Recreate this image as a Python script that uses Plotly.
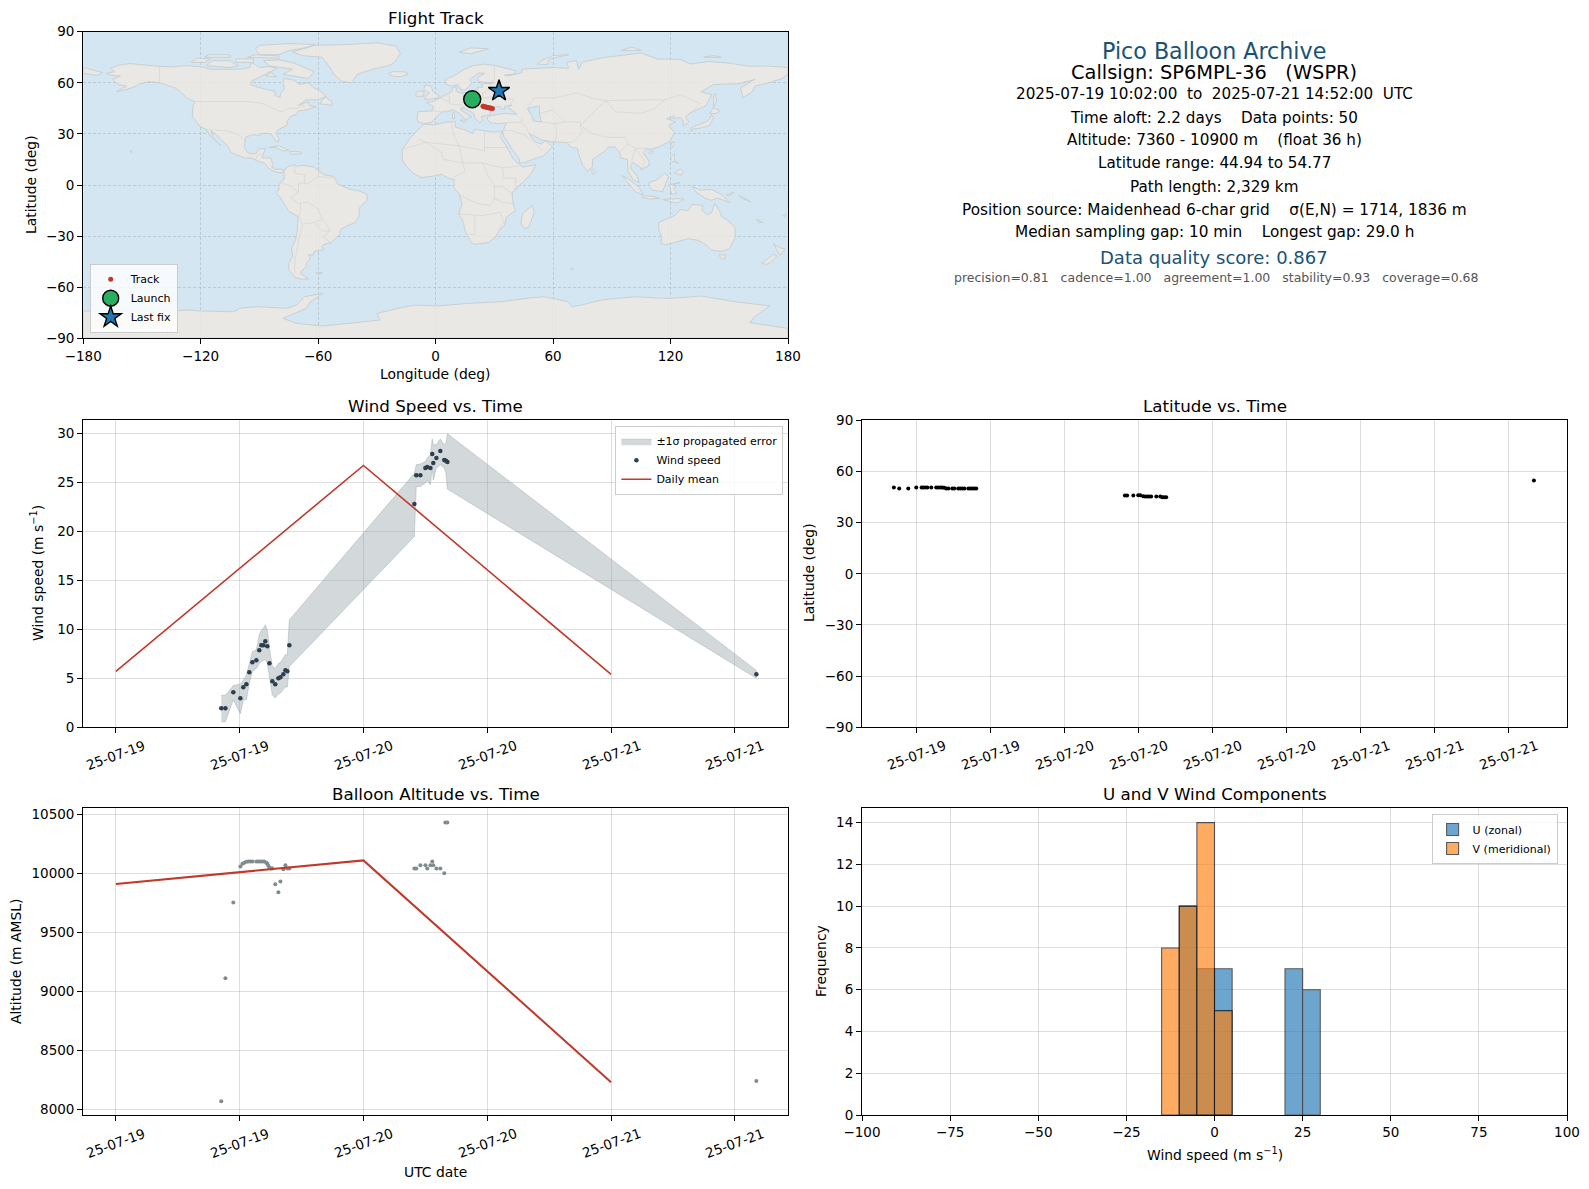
import plotly.graph_objects as go

# page has an 8px body margin, so all pixel positions are shifted by this
OFF = 8
FIG_W = 1573
FIG_H = 1173

FONT = "DejaVu Sans"
RED = "#c0392b"
NAVY = "#1a5276"
SEA = "#d4e6f1"
LAND = "rgba(237,232,225,0.8)"
COAST = "#c3cacd"
BORDER = "rgba(190,190,185,0.4)"
GRID = "rgba(128,128,128,0.26)"

# ---- wind speed panel
wind_times = ["07-19 10:13", "07-19 10:37", "07-19 11:23", "07-19 12:04", "07-19 12:21", "07-19 12:39",
              "07-19 12:56", "07-19 13:14", "07-19 13:37", "07-19 13:54", "07-19 14:06", "07-19 14:18",
              "07-19 14:29", "07-19 14:41", "07-19 14:53", "07-19 15:10", "07-19 15:27", "07-19 15:45",
              "07-19 15:57", "07-19 16:14", "07-19 16:26", "07-19 16:37", "07-19 16:49",
              "07-20 04:56", "07-20 05:07", "07-20 05:31", "07-20 06:00", "07-20 06:11", "07-20 06:29",
              "07-20 06:40", "07-20 06:46", "07-20 07:04", "07-20 07:27", "07-20 07:50", "07-20 08:00",
              "07-20 08:08", "07-21 14:05"]
wind_speed = [1.94, 1.94, 3.57, 2.96, 4.08, 4.39, 5.61, 6.63, 6.84, 7.86, 8.37, 8.37, 8.78, 8.27, 6.53,
              4.69, 4.39, 5.0, 5.1, 5.41, 5.82, 5.71, 8.37,
              22.76, 25.71, 25.71, 26.43, 26.53, 26.43, 27.86, 26.94, 27.45, 28.16, 27.24, 27.18, 27.04, 5.4]
wind_upper = [3.26, 3.26, 4.25, 4.4, 4.8, 5.3, 6.5, 7.7, 7.9, 9.4, 9.9, 10.1, 10.45, 9.9, 8.05,
              6.2, 6.0, 6.5, 6.6, 7.0, 7.4, 7.4, 10.95,
              25.9, 26.77, 26.84, 27.1, 27.45, 27.8, 29.4, 28.8, 28.8, 29.4, 28.8, 29.0, 29.93, 5.8]
wind_lower = [0.57, 0.57, 2.8, 1.36, 2.8, 2.8, 4.5, 5.7, 6.0, 6.5, 6.7, 6.8, 6.9, 6.5, 5.0,
              3.3, 3.0, 3.4, 3.5, 3.8, 4.1, 4.1, 6.2,
              19.45, 24.56, 24.56, 24.9, 25.17, 24.73, 26.6, 25.2, 26.43, 26.77, 26.43, 25.9, 24.29, 5.0]
daily_days = ["2025-07-19", "2025-07-20", "2025-07-21"]
daily_wind = [5.7, 26.7, 5.4]
daily_alt = [9910, 10110, 8230]

# ---- latitude panel
lat_times = ["07-19 10:11", "07-19 10:37", "07-19 11:21", "07-19 12:00", "07-19 12:26", "07-19 12:34",
             "07-19 12:44", "07-19 12:54", "07-19 13:13", "07-19 13:37", "07-19 13:47", "07-19 13:57",
             "07-19 14:06", "07-19 14:16", "07-19 14:26", "07-19 14:36", "07-19 14:55", "07-19 15:05",
             "07-19 15:24", "07-19 15:34", "07-19 15:44", "07-19 15:54", "07-19 16:13", "07-19 16:23",
             "07-19 16:32", "07-19 16:42", "07-19 16:52",
             "07-20 04:55", "07-20 05:06", "07-20 05:36", "07-20 06:00", "07-20 06:10", "07-20 06:24",
             "07-20 06:34", "07-20 06:44", "07-20 06:53", "07-20 07:03", "07-20 07:28", "07-20 07:47",
             "07-20 07:57", "07-20 08:06", "07-20 08:16", "07-21 14:05"]
lat_values = [50.6, 50.0, 50.0, 50.6, 50.6, 50.6, 50.6, 50.6, 50.6, 50.6, 50.6, 50.6, 50.6, 50.4, 50.0,
              50.0, 50.0, 50.0, 50.0, 50.0, 50.0, 50.0, 50.0, 50.0, 50.0, 50.0, 50.0,
              45.9, 45.9, 45.9, 46.1, 46.1, 45.5, 45.3, 45.3, 45.3, 45.3, 45.3, 45.3, 44.94, 44.94, 44.94, 54.77]

# ---- altitude panel
alt_times = ["07-19 10:13", "07-19 10:37", "07-19 11:23", "07-19 12:04", "07-19 12:16", "07-19 12:27",
             "07-19 12:39", "07-19 12:50", "07-19 13:02", "07-19 13:14", "07-19 13:37", "07-19 13:49",
             "07-19 14:00", "07-19 14:12", "07-19 14:23", "07-19 14:35", "07-19 14:41", "07-19 14:47",
             "07-19 14:53", "07-19 15:04", "07-19 15:10", "07-19 15:27", "07-19 15:45", "07-19 15:57",
             "07-19 16:14", "07-19 16:26", "07-19 16:37", "07-19 16:49",
             "07-20 04:56", "07-20 05:07", "07-20 05:31", "07-20 06:00", "07-20 06:11", "07-20 06:29",
             "07-20 06:40", "07-20 06:46", "07-20 07:04", "07-20 07:27", "07-20 07:50", "07-20 07:56",
             "07-20 08:08", "07-21 14:05"]
alt_values = [8068, 9110, 9754, 10059, 10082, 10090, 10099, 10100, 10100, 10100, 10100, 10100,
              10100, 10100, 10100, 10090, 10082, 10065, 10050, 10042, 10042, 9907, 9839, 9932,
              10034, 10068, 10042, 10042,
              10042, 10042, 10068, 10068, 10042, 10068, 10100, 10068, 10042, 10042, 10000, 10432,
              10432, 8240]

# ---- histogram
u_bins = [-7.5, -2.5, 2.5, 22.5, 27.5]
u_counts = [10, 7, 7, 7, 6]
v_bins = [-12.5, -7.5, -2.5, 2.5]
v_counts = [8, 10, 14, 5]

# ---- flight track
track_lon = [24.2, 24.8, 25.4, 26.0, 26.6, 27.2, 27.8, 28.4, 29.0]
track_lat = [46.2, 46.0, 45.9, 45.7, 45.5, 45.3, 45.2, 45.0, 44.94]
launch_lon, launch_lat = [18.7], [50.3]
last_lon, last_lat = [32.4], [55.2]

# ---- map outlines (lon, lat), read by eye
land_rings = [
    # north america
    [(-168, 65.5), (-164, 66.5), (-166, 68.5), (-162, 70.3), (-156.5, 71.3), (-150, 70.5), (-141, 69.7), (-135, 69.3),
     (-128, 70), (-120, 69.5), (-115, 68), (-108, 68), (-100, 68), (-95, 69), (-94, 72), (-90, 69), (-85, 69.5),
     (-81, 68.5), (-87, 65), (-94, 61), (-94.5, 58.8), (-88, 56.5), (-82, 55), (-82, 52.5), (-79.5, 51.3), (-79, 54.5),
     (-77, 56.5), (-78, 60), (-77.5, 62.5), (-72, 61.5), (-70, 59), (-65, 60), (-62, 57), (-58, 54.5), (-56, 52),
     (-60, 50), (-66, 50), (-70, 47), (-65, 48.8), (-64.5, 46.5), (-61, 46), (-66, 44), (-70, 43.5), (-71, 41.5),
     (-74, 40.5), (-76, 37), (-75.7, 35.3), (-78, 33.8), (-81, 32), (-81.3, 30), (-80, 27), (-80.3, 25.3), (-81.8, 26),
     (-82.8, 28), (-84, 30), (-86, 30.4), (-89.5, 30.2), (-89.5, 29.2), (-91, 29.3), (-94, 29.5), (-97, 28), (-97.5, 25),
     (-97.8, 22.5), (-96, 19), (-94, 18.2), (-91.5, 18.5), (-90.5, 21), (-87, 21.5), (-88, 18), (-88.7, 16), (-84, 15.8),
     (-83.3, 12), (-83.7, 10.5), (-81.5, 9), (-79.5, 9.5), (-77.5, 8.6), (-78, 7.3), (-80.5, 7.3), (-83, 8.3), (-85.5, 10),
     (-87.5, 13), (-91, 14), (-94, 16), (-97, 15.8), (-101, 17.3), (-105, 19.5), (-105.5, 22), (-109, 26), (-112.5, 30),
     (-114.7, 31.7), (-114, 28.5), (-111, 24.5), (-109.5, 23), (-112, 25), (-115, 28.5), (-117, 32.5), (-120.5, 34.5),
     (-122.5, 37.5), (-124.3, 40.5), (-124, 46), (-123, 49), (-127, 51), (-130, 54.5), (-133, 57), (-137, 58.7),
     (-141, 60), (-146, 60.7), (-151, 59.5), (-153, 58), (-158, 56), (-163, 54.8), (-158, 58), (-162, 59), (-165, 62),
     (-161, 64), (-166, 64.5)],
    # greenland and arctic islands
    [(-73, 78), (-68, 80), (-62, 82), (-45, 82.5), (-30, 83.5), (-20, 81.5), (-18, 77), (-21, 72), (-24, 70), (-32, 68),
     (-40, 65), (-43, 60), (-48, 61), (-52, 65), (-54, 69), (-58, 75), (-68, 76)],
    [(-80, 73.5), (-72, 71.5), (-67, 69), (-62, 66.5), (-65, 62.5), (-72, 64), (-78, 65), (-73, 68), (-85, 70), (-88, 73)],
    [(-90, 76.5), (-80, 76.5), (-76, 78.5), (-65, 81), (-62, 82.5), (-75, 83), (-90, 82), (-92, 80)],
    [(-117, 70), (-105, 69), (-101, 70), (-105, 73), (-114, 73)],
    [(-125, 72), (-118, 72), (-115, 74), (-122, 74.5)],
    [(-96, 75), (-80, 74.5), (-80, 75.8), (-92, 76.5)],
    [(-118, 75), (-105, 75), (-105, 76.5), (-116, 76.5)],
    [(-102, 72), (-93, 72), (-93, 74), (-102, 74)],
    [(-87, 64), (-81, 63.5), (-84, 66)],
    [(-59, 47.7), (-53, 46.7), (-53, 49), (-56, 51.5), (-58, 50)],
    # caribbean, hawaii
    [(-85, 22), (-80, 23), (-75, 20.5), (-77.5, 19.9), (-82, 22)],
    [(-74.4, 19.7), (-69, 19.5), (-68.5, 18.3), (-74, 18)],
    [(-156, 20.2), (-155, 19.7), (-155.7, 19), (-156, 19.7)],
    # south america
    [(-77.5, 8.6), (-75, 11), (-72, 12), (-71, 11), (-68, 11.5), (-62, 10.5), (-60, 8.5), (-57, 6), (-52, 5), (-50, 0.5),
     (-44, -2.5), (-39, -3.5), (-35, -5.5), (-35, -9), (-39, -13.5), (-39, -18), (-41, -22), (-45, -23.8), (-48.5, -26),
     (-49, -29), (-53.5, -34), (-57, -34.7), (-58, -36), (-57, -38), (-62, -39), (-62.5, -41), (-65, -41), (-64, -43),
     (-66, -46), (-66, -48), (-69, -51), (-68.5, -52.5), (-65, -55), (-68, -55.5), (-72, -54), (-75, -50), (-75, -46),
     (-73, -42), (-73.5, -37), (-71.5, -32), (-70.5, -25), (-70.3, -18.5), (-75, -15.5), (-77, -12), (-79.5, -7),
     (-81.3, -5), (-80, -2.5), (-80, 0.5), (-78.5, 2), (-77.3, 4), (-77.5, 7)],
    [(-61, -51.5), (-58, -51.3), (-58.5, -52.2), (-60.5, -52.2)],
    # africa
    [(-17, 14.7), (-17, 21), (-13, 27.5), (-9.8, 31.5), (-6, 35.8), (-1, 35.2), (5, 36.8), (10, 37.3), (10.2, 34),
     (15, 32.3), (19, 30.3), (20, 32.8), (25, 31.6), (29, 31), (32, 31.3), (34.2, 31.3), (33, 28), (35.5, 24),
     (37.2, 20.5), (39.5, 15.5), (43, 11.8), (44.5, 10.5), (51.2, 11.9), (49, 7), (45, 2), (41, -2), (39, -5), (39.5, -10),
     (40.7, -15), (36, -19), (35.3, -24), (32.8, -26), (31, -30), (27, -33.8), (20, -34.8), (18.3, -34), (15, -27),
     (14.3, -22), (11.8, -17), (13.5, -11), (12.2, -5.5), (9.3, -1.5), (9.5, 3), (6, 4.3), (3, 6.3), (-2, 5), (-7.5, 4.4),
     (-11.5, 7), (-15, 11)],
    [(49.3, -12), (50.4, -16), (47.5, -25), (45, -25.5), (43.5, -22), (44.5, -16.5)],
    # eurasia
    [(-9, 37), (-9.5, 39), (-9, 43), (-2, 43.5), (-1, 46), (-4.5, 48.3), (-1.5, 49), (2, 51), (4, 52), (7, 53.7), (8.5, 55),
     (8.5, 57), (10.5, 57.7), (10.5, 55), (12, 54.2), (14, 54), (18.5, 54.7), (21, 55.5), (21.5, 57.5), (24, 57.3),
     (23.5, 59.3), (30, 60), (25, 60.2), (21.5, 61), (21.5, 63), (25, 65.5), (22, 65.8), (17.5, 62), (18.5, 60), (16.5, 57),
     (14.3, 55.5), (12.8, 56), (11.3, 59), (8, 58), (5.5, 59), (5, 62), (10, 64.5), (14, 67.5), (19, 70), (25, 71), (31, 70),
     (41, 67), (40, 65), (35, 64.5), (37, 64), (40, 64.7), (44, 66), (44, 68), (54, 68.5), (60, 69), (68, 68.5), (67, 72),
     (72, 73), (73, 68), (75, 72), (80, 73.5), (87, 75), (100, 76.5), (105, 77.5), (113, 74), (125, 73.7), (130, 71),
     (140, 72.5), (150, 71.5), (160, 69.7), (170, 69.8), (180, 69), (180, 65), (177, 62.5), (170, 60), (163, 58), (162, 55),
     (157, 51.2), (155.7, 57), (163, 62), (155, 59.5), (142, 59), (135.5, 54.7), (141, 53), (138, 46.5), (132, 43),
     (130, 42.3), (127.5, 39.8), (129.4, 37), (126.3, 34.5), (126.5, 37.5), (125, 39.7), (121.5, 39), (122, 40.7), (118, 39),
     (122.5, 37), (119, 35), (122, 31), (120, 26), (114, 22.3), (110, 21), (108, 21.5), (106, 19), (109, 14), (109, 11.5),
     (105, 8.8), (105, 10), (100.5, 13.5), (99.5, 10), (103, 5), (104, 1.3), (101, 3), (98.3, 8), (98, 15), (94.5, 16),
     (94, 19), (91.5, 22.5), (88, 22), (86.5, 20), (80.3, 15), (80, 10.5), (77.5, 8), (75, 12), (72.8, 19), (72.5, 21.5),
     (69, 22.3), (67, 25), (61, 25.2), (57, 26), (54, 26.5), (51, 28.5), (48, 30), (49.5, 27), (51.5, 25), (54, 24),
     (56.3, 26), (58.5, 23.5), (59.8, 22.5), (55, 17), (52, 16), (45, 13), (43, 13), (42.5, 16), (39, 21), (36.5, 26),
     (35, 28), (34.2, 31.3), (35, 33), (36, 36.5), (32, 36), (28, 36.5), (26.5, 38.5), (26.5, 40), (29, 41), (35, 42),
     (41.5, 41.5), (39, 44), (37, 45.3), (39, 47), (35, 46), (36, 45), (33.5, 44.5), (33, 46), (30.5, 46), (28, 43),
     (28, 41.5), (26, 40.7), (23.5, 40.5), (24, 38), (22.5, 36.5), (20, 39.5), (19.5, 42), (14.5, 45.3), (12.5, 45),
     (13.5, 43.5), (16, 41.5), (18.5, 40), (16.5, 39.5), (15.7, 38), (12, 42), (9, 44.3), (6, 43), (3.3, 43), (0, 39.5),
     (-2, 36.8), (-5.5, 36)],
    [(-180, 69), (-175, 67.5), (-170, 66), (-173, 64.3), (-179, 65.5), (-180, 65)],
    # european and russian islands
    [(-5.5, 50), (1.5, 51.2), (1.5, 52.8), (-1.5, 55), (-2, 57.5), (-3.5, 58.6), (-5.5, 58.5), (-6, 56), (-3, 54), (-5, 52)],
    [(-10, 52), (-6, 52.2), (-6, 55), (-8.5, 55.2), (-10, 54)],
    [(-24, 65.5), (-22, 64), (-18, 63.5), (-14, 65), (-16, 66.5), (-22, 66.5)],
    [(12, 78), (18, 77), (27, 80), (18, 80.5)],
    [(52, 71), (57, 70.7), (58, 74), (68, 76.5), (60, 76), (54, 73)],
    [(137, 75), (146, 75), (142, 76)],
    [(95, 79), (105, 79), (100, 81)],
    [(8.5, 39), (9.7, 39), (9.5, 43), (8.7, 42)],
    [(12.5, 38), (15.5, 38.2), (15, 36.7)],
    # east asia and indonesia
    [(142, 46), (143.5, 49), (143, 54), (142, 52.5)],
    [(130.5, 31.5), (132, 33), (135.5, 33.5), (140, 35), (142, 39.5), (141, 41.3), (139.5, 38), (136, 36), (131, 34)],
    [(140, 42), (143.3, 42), (145.3, 43.5), (142, 45.4)],
    [(120, 23), (121, 22), (122, 25), (121, 25.3)],
    [(108.7, 19), (110.5, 18.3), (111, 20), (109.5, 20)],
    [(120, 16), (122, 18.5), (122, 14), (124, 12.8), (120.7, 14)],
    [(122, 7), (125.5, 5.8), (126.5, 8), (125, 9.5)],
    [(80, 9.5), (81.8, 7.5), (80.5, 6), (79.8, 8)],
    [(95.3, 5.5), (98, 4), (104, -1.5), (106, -5.8), (102, -4), (98.5, 1)],
    [(105.3, -6.5), (110, -6.5), (114.5, -7.8), (110, -8.3), (106, -7.5)],
    [(109, 1.5), (113, 3), (117, 7), (119, 5), (117.5, 1), (116, -4), (111, -3), (109, -0.5)],
    [(119.5, 0), (125, 1.5), (121, 0), (123, -1), (121.5, -2), (123, -5), (120.5, -5.5), (120, -2.5)],
    [(131, -0.8), (135, -3), (141, -2.6), (146, -5.5), (150.5, -10.5), (144, -7.7), (141, -9), (138, -8), (133, -4)],
    [(116, -8.5), (125, -8), (127, -8.5), (123.5, -10.5), (117, -9)],
    [(148.5, -5.7), (152.5, -4.2), (150, -6.2)],
    [(155, -6), (161, -10), (156, -7.5)],
    [(164, -20), (167, -22), (165, -22)],
    [(177.5, -18), (179, -17), (178.5, -18.4)],
    # australia and nz
    [(114, -22), (114, -26), (115.5, -31), (115, -34.3), (118, -35), (124, -33), (129, -31.5), (134, -32.5), (138, -35),
     (140.5, -38), (146, -39), (150, -37.5), (153, -31), (153, -25), (149, -20.5), (146, -18.5), (145, -15), (142.5, -10.8),
     (141, -16), (139, -17.5), (136, -15), (136.5, -12), (131, -11.3), (129, -15), (125, -14.5), (122, -18), (117, -20.5)],
    [(144.7, -41), (148.3, -41), (147.5, -43.5), (146, -43.5)],
    [(172.7, -34.5), (175.5, -36.7), (178.5, -37.7), (176, -41.3), (174.7, -39)],
    [(172.7, -40.6), (174.3, -41.7), (171, -45.5), (169, -46.6), (166.5, -46), (170, -43)],
    [(69, -49), (70.5, -49.3), (69.5, -49.7)],
    # antarctica
    [(-180, -74), (-139, -74), (-127, -73.4), (-119, -74), (-103, -74.4), (-100, -72.4), (-91.5, -71.4), (-76, -72.4),
     (-71, -70.5), (-67, -65.6), (-57.5, -63.6), (-64, -68.5), (-66, -72.4), (-78, -78.3), (-71, -81.2), (-58, -82.8),
     (-44, -81.2), (-28.5, -79.3), (-30, -75.4), (-17, -71.8), (-10, -70.5), (1, -71), (16.5, -69.5), (33.5, -68.5),
     (50.6, -66), (55.7, -65.6), (67.6, -68.5), (69.3, -71.4), (74.4, -70.5), (84.7, -67.5), (101.7, -65.6), (118.7, -66.6),
     (135.8, -65.2), (152.8, -68.5), (170.7, -71), (163, -77.3), (160.5, -80.8), (180, -84.2), (180, -90), (-180, -90)],
]
caspian_ring = [(47, 45), (53, 46.5), (53, 42), (54, 37), (50, 37.5), (49, 41)]
border_lines = [
    [(-141, 69.7), (-141, 60)],
    [(-123, 49), (-95, 49), (-89, 48), (-82.5, 45), (-79, 43), (-75, 45), (-71, 45), (-67.5, 47), (-67, 45)],
    [(-117, 32.5), (-108, 31.5), (-106, 31.7), (-101, 29.7), (-97.5, 26)],
    [(-92, 14.5), (-91, 17.5), (-89, 18)],
    [(-52, 4), (-60, 5), (-65, 1), (-70, 1), (-70, -4), (-74, -7.5), (-70, -11), (-65, -10), (-60, -14), (-58, -20), (-55, -24),
     (-54, -27), (-57.5, -30.5), (-53.5, -34)],
    [(-70, -18), (-68, -23), (-70, -33), (-72, -45), (-72, -52)],
    [(-69, -11), (-69, -16), (-70, -18)],
    [(-68, -23), (-62, -22), (-58, -20)],
    [(-62, -22), (-58, -27), (-54, -27)],
    [(-78.5, 1), (-75, 0), (-70, -4)],
    [(-72, 12), (-72, 7), (-67, 6), (-67, 1)],
    [(-60, 8), (-60, 5)],
    [(-17, 21), (-5, 25), (12, 23), (25, 20), (25, 31.6)],
    [(-9, 27), (-5, 25), (3, 19), (4, 15), (14, 13), (24, 13), (34, 10), (42, 11)],
    [(12, 23), (14, 13), (15, 8), (9, 4.5)],
    [(25, 22), (37, 22)],
    [(34, 10), (35, 4), (41, 4), (41, -2)],
    [(24, 13), (27, 5), (30, 0), (30, -8), (28, -12), (22, -11), (12, -6)],
    [(30, -1), (34, -1), (39.5, -5)],
    [(30, -8), (34, -10), (40, -11)],
    [(12, -17), (24, -18), (33, -16), (35, -22), (32, -26)],
    [(20, -18), (20, -29), (17, -29)],
    [(8, 37), (9, 30), (12, 23)],
    [(3, 43), (-2, 43.5)],
    [(2, 51), (7, 49), (7.5, 47.5), (13, 47), (14.5, 45.5)],
    [(7, 53.5), (7, 49)],
    [(14, 54), (15, 51), (22, 49), (24, 51), (24, 54), (28, 56), (28, 60)],
    [(22, 49), (28, 46), (28, 43)],
    [(24, 51), (34, 52), (40, 50), (38, 47)],
    [(30, 70), (30, 62), (28, 60)],
    [(48, 42), (47, 45), (50, 51), (60, 51), (72, 54), (80, 51), (87, 49.5), (98, 50), (107, 50), (117, 50), (125, 53), (135, 48), (131, 43)],
    [(87, 49.5), (92, 43), (105, 42), (112, 45), (117, 50)],
    [(74, 35), (80, 42), (87, 49.5)],
    [(74, 35), (80, 30), (88, 28), (97, 28), (98, 24), (102, 21.5), (108, 21.5)],
    [(61, 25), (62, 30), (61, 36), (54, 37)],
    [(61, 36), (66, 37), (74, 37), (74, 35), (75, 31), (70, 25), (67, 25)],
    [(66, 37), (60, 44), (53, 42)],
    [(44, 37), (46, 34), (48, 30)],
    [(36, 36.5), (44, 37), (44.5, 39.5)],
    [(35, 32), (39, 32), (46, 29), (52, 23), (55, 20)],
    [(98, 24), (94, 19)],
    [(102, 21.5), (100, 14)],
    [(105, 9), (107, 14), (102, 21)],
]


def rings_to_xy(rings, closed=True):
    xs, ys = [], []
    for ring in rings:
        pts = list(ring) + [ring[0]] if closed else ring
        xs += [p[0] for p in pts] + [None]
        ys += [p[1] for p in pts] + [None]
    return xs, ys


def stamp(times):
    return ["2025-" + t for t in times]


def px(x):
    return (x - OFF) / FIG_W


def py(y):
    return 1 - (y - OFF) / FIG_H


# plot areas in window pixels: left, right, top, bottom
BOX_MAP = (83.2, 788, 31.7, 338.3)
BOX_WIND = (83.2, 788, 420.3, 727.3)
BOX_LAT = (862, 1567, 420.3, 727.3)
BOX_ALT = (83.2, 788, 808, 1115)
BOX_HIST = (862, 1567, 808, 1115)

fig = go.Figure()

# map
land_x, land_y = rings_to_xy(land_rings)
fig.add_trace(go.Scatter(x=land_x, y=land_y, mode="lines", fill="toself", fillcolor=LAND,
                         line=dict(color=COAST, width=0.8), hoverinfo="skip", showlegend=False,
                         xaxis="x", yaxis="y"))
casp_x, casp_y = rings_to_xy([caspian_ring])
fig.add_trace(go.Scatter(x=casp_x, y=casp_y, mode="lines", fill="toself", fillcolor=SEA,
                         line=dict(color=COAST, width=0.8), hoverinfo="skip", showlegend=False,
                         xaxis="x", yaxis="y"))
bord_x, bord_y = rings_to_xy(border_lines, closed=False)
fig.add_trace(go.Scatter(x=bord_x, y=bord_y, mode="lines", line=dict(color=BORDER, width=0.8),
                         hoverinfo="skip", showlegend=False, xaxis="x", yaxis="y"))
fig.add_trace(go.Scatter(x=track_lon, y=track_lat, mode="markers", name="Track", legend="legend",
                         marker=dict(color=RED, size=5), xaxis="x", yaxis="y"))
fig.add_trace(go.Scatter(x=launch_lon, y=launch_lat, mode="markers", name="Launch", legend="legend",
                         marker=dict(color="#27ae60", size=17, line=dict(color="black", width=1.4)),
                         xaxis="x", yaxis="y"))
fig.add_trace(go.Scatter(x=last_lon, y=last_lat, mode="markers", name="Last fix", legend="legend",
                         marker=dict(color="#1f77b4", size=16, symbol="star", line=dict(color="black", width=1.4)),
                         xaxis="x", yaxis="y"))

# wind speed
band_x = stamp(wind_times) + stamp(wind_times)[::-1]
band_y = wind_upper + wind_lower[::-1]
fig.add_trace(go.Scatter(x=band_x, y=band_y, mode="lines", fill="toself", name="±1σ propagated error",
                         fillcolor="rgba(149,165,166,0.42)", line=dict(color="rgba(149,165,166,0.42)", width=1),
                         legend="legend2", xaxis="x2", yaxis="y2"))
fig.add_trace(go.Scatter(x=stamp(wind_times), y=wind_speed, mode="markers", name="Wind speed",
                         marker=dict(color="#2c3e50", size=4.5), legend="legend2", xaxis="x2", yaxis="y2"))
fig.add_trace(go.Scatter(x=daily_days, y=daily_wind, mode="lines", name="Daily mean",
                         line=dict(color=RED, width=1.6), legend="legend2", xaxis="x2", yaxis="y2"))

# latitude
fig.add_trace(go.Scatter(x=stamp(lat_times), y=lat_values, mode="markers", showlegend=False,
                         marker=dict(color="black", size=4), xaxis="x3", yaxis="y3"))

# altitude
fig.add_trace(go.Scatter(x=stamp(alt_times), y=alt_values, mode="markers", showlegend=False,
                         marker=dict(color="#7f8c8d", size=4), xaxis="x4", yaxis="y4"))
fig.add_trace(go.Scatter(x=daily_days, y=daily_alt, mode="lines", showlegend=False,
                         line=dict(color=RED, width=2), xaxis="x4", yaxis="y4"))

# histogram
fig.add_trace(go.Bar(x=u_bins, y=u_counts, width=5, name="U (zonal)", opacity=0.65,
                     marker=dict(color="#1f77b4", line=dict(color="black", width=1.1)),
                     legend="legend3", xaxis="x5", yaxis="y5"))
fig.add_trace(go.Bar(x=v_bins, y=v_counts, width=5, name="V (meridional)", opacity=0.65,
                     marker=dict(color="#ff7f0e", line=dict(color="black", width=1.1)),
                     legend="legend3", xaxis="x5", yaxis="y5"))

annotations = []


def add_text(text, x, y, size, color="black", angle=0, xanchor="center"):
    annotations.append(dict(text=text, x=px(x), y=py(y), xref="paper", yref="paper", showarrow=False,
                            font=dict(family=FONT, size=size, color=color), textangle=angle,
                            xanchor=xanchor, yanchor="middle"))


def base_axis(box, horizontal, partner):
    dom = (px(box[0]), px(box[1])) if horizontal else (py(box[3]), py(box[2]))
    return dict(domain=dom, anchor=partner, showline=True, mirror=True, linecolor="black", linewidth=1.1,
                ticks="outside", ticklen=5, tickwidth=1.1, tickcolor="black",
                gridcolor=GRID, gridwidth=1, zeroline=False,
                tickfont=dict(family=FONT, size=13.5, color="black"))


def date_axis(box, tick_times, tick_labels, rng, ref, partner):
    ax = base_axis(box, True, partner)
    ax.update(type="date", range=rng, tickmode="array", tickvals=tick_times, showticklabels=False)
    for t, lab in zip(tick_times, tick_labels):
        annotations.append(dict(text=lab, x=t, y=py(box[3]), xref=ref, yref="paper", yshift=-28, showarrow=False,
                                font=dict(family=FONT, size=13.5, color="black"), textangle=-20,
                                xanchor="center", yanchor="middle"))
    return ax


ticks_12h = ["2025-07-19 00:00", "2025-07-19 12:00", "2025-07-20 00:00", "2025-07-20 12:00",
             "2025-07-21 00:00", "2025-07-21 12:00"]
labels_12h = ["25-07-19", "25-07-19", "25-07-20", "25-07-20", "25-07-21", "25-07-21"]
ticks_6h = ["2025-07-19 12:00", "2025-07-19 18:00", "2025-07-20 00:00", "2025-07-20 06:00", "2025-07-20 12:00",
            "2025-07-20 18:00", "2025-07-21 00:00", "2025-07-21 06:00", "2025-07-21 12:00"]
labels_6h = ["25-07-19", "25-07-19", "25-07-20", "25-07-20", "25-07-20", "25-07-20",
             "25-07-21", "25-07-21", "25-07-21"]
range_12h = ["2025-07-18 20:50", "2025-07-21 17:09"]
range_6h = ["2025-07-19 07:36", "2025-07-21 16:46"]

map_grid = dict(griddash="3px,2px", gridcolor="rgba(128,128,128,0.28)", gridwidth=0.7)

xaxis = base_axis(BOX_MAP, True, "y")
xaxis.update(range=[-180, 180], tickvals=[-180, -120, -60, 0, 60, 120, 180], **map_grid)
yaxis = base_axis(BOX_MAP, False, "x")
yaxis.update(range=[-90, 90], tickvals=[-90, -60, -30, 0, 30, 60, 90], **map_grid)

xaxis2 = date_axis(BOX_WIND, ticks_12h, labels_12h, range_12h, "x2", "y2")
yaxis2 = base_axis(BOX_WIND, False, "x2")
yaxis2.update(range=[0, 31.3], tickvals=[0, 5, 10, 15, 20, 25, 30])

xaxis3 = date_axis(BOX_LAT, ticks_6h, labels_6h, range_6h, "x3", "y3")
yaxis3 = base_axis(BOX_LAT, False, "x3")
yaxis3.update(range=[-90, 90], tickvals=[-90, -60, -30, 0, 30, 60, 90])

xaxis4 = date_axis(BOX_ALT, ticks_12h, labels_12h, range_12h, "x4", "y4")
yaxis4 = base_axis(BOX_ALT, False, "x4")
yaxis4.update(range=[7952, 10554], tickvals=[8000, 8500, 9000, 9500, 10000, 10500], tickformat="d")

xaxis5 = base_axis(BOX_HIST, True, "y5")
xaxis5.update(range=[-100, 100], tickvals=[-100, -75, -50, -25, 0, 25, 50, 75, 100])
yaxis5 = base_axis(BOX_HIST, False, "x5")
yaxis5.update(range=[0, 14.7], tickvals=[0, 2, 4, 6, 8, 10, 12, 14])

# titles
add_text("Flight Track", 435.6, 18, 16.7)
add_text("Wind Speed vs. Time", 435.6, 406, 16.7)
add_text("Latitude vs. Time", 1214.5, 406, 16.7)
add_text("Balloon Altitude vs. Time", 435.6, 794, 16.7)
add_text("U and V Wind Components", 1214.5, 794, 16.7)

# axis labels
add_text("Longitude (deg)", 435.6, 374, 13.9)
add_text("Latitude (deg)", 31, 185, 13.9, angle=-90)
add_text("Wind speed (m s<sup>−1</sup>)", 37, 573, 13.9, angle=-90)
add_text("Latitude (deg)", 809, 573, 13.9, angle=-90)
add_text("Altitude (m AMSL)", 16, 961, 13.9, angle=-90)
add_text("Frequency", 821, 961, 13.9, angle=-90)
add_text("UTC date", 435.6, 1172, 13.9)
add_text("Wind speed (m s<sup>−1</sup>)", 1214.5, 1154, 13.9)

# summary block
add_text("Pico Balloon Archive", 1214, 50.7, 22.2, color=NAVY)
add_text("Callsign: SP6MPL-36   (WSPR)", 1214, 73, 19.4)
add_text("2025-07-19 10:02:00  to  2025-07-21 14:52:00  UTC", 1214, 94.2, 15.2)
add_text("Time aloft: 2.2 days    Data points: 50", 1214, 117.6, 15.2)
add_text("Altitude: 7360 - 10900 m    (float 36 h)", 1214, 139.8, 15.2)
add_text("Latitude range: 44.94 to 54.77", 1214, 163.2, 15.2)
add_text("Path length: 2,329 km", 1214, 186.5, 15.2)
add_text("Position source: Maidenhead 6-char grid    σ(E,N) = 1714, 1836 m", 1214, 209.8, 15.3)
add_text("Median sampling gap: 10 min    Longest gap: 29.0 h", 1214, 232, 15.3)
add_text("Data quality score: 0.867", 1214, 257.4, 18, color=NAVY)
add_text("precision=0.81   cadence=1.00   agreement=1.00   stability=0.93   coverage=0.68", 1216, 277.7, 12.5, color="#555555")

legend_style = dict(bgcolor="rgba(255,255,255,0.8)", bordercolor="#cccccc", borderwidth=1,
                    font=dict(family=FONT, size=11, color="black"), tracegroupgap=0, itemwidth=30)

fig.update_layout(
    width=FIG_W, height=FIG_H, margin=dict(l=0, r=0, t=0, b=0, autoexpand=False),
    paper_bgcolor="white", plot_bgcolor="white", barmode="overlay",
    font=dict(family=FONT, color="black"),
    xaxis=xaxis, yaxis=yaxis, xaxis2=xaxis2, yaxis2=yaxis2, xaxis3=xaxis3, yaxis3=yaxis3,
    xaxis4=xaxis4, yaxis4=yaxis4, xaxis5=xaxis5, yaxis5=yaxis5,
    legend=dict(x=px(89.7), y=py(332.7), xanchor="left", yanchor="bottom", **legend_style),
    legend2=dict(x=px(783.4), y=py(425.7), xanchor="right", yanchor="top", **legend_style),
    legend3=dict(x=px(1557.6), y=py(814), xanchor="right", yanchor="top", **legend_style),
    annotations=annotations,
)
# map panel has a sea coloured background
fig.add_shape(type="rect", xref="x domain", yref="y domain", x0=0, x1=1, y0=0, y1=1,
              fillcolor=SEA, line=dict(width=0), layer="below")

fig.write_html("out.html")
